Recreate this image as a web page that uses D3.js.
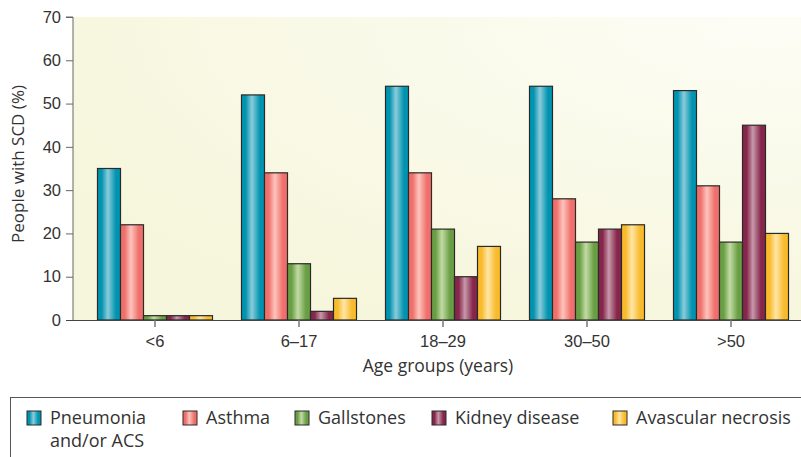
<!DOCTYPE html>
<html>
<head>
<meta charset="utf-8">
<script src="https://cdn.jsdelivr.net/npm/d3@7"></script>
<style>
  body { margin: 0; background: #fff; }
  svg { display: block; font-family: "Open Sans", "Noto Sans", sans-serif; }
</style>
</head>
<body>
<svg id="chart" width="801" height="457"></svg>
<script>
const ageGroups = ["<6", "6\u201317", "18\u201329", "30\u201350", ">50"];
const conditions = ["pneumonia", "asthma", "gallstones", "kidney", "avascular"];
const conditionLabels = [["Pneumonia", "and/or ACS"], ["Asthma"], ["Gallstones"], ["Kidney disease"], ["Avascular necrosis"]];
const pneumonia = [35, 52, 54, 54, 53];
const asthma = [22, 34, 34, 28, 31];
const gallstones = [1, 13, 21, 18, 18];
const kidney = [1, 2, 10, 21, 45];
const avascular = [1, 5, 17, 22, 20];
const yTicks = [0, 10, 20, 30, 40, 50, 60, 70];

const seriesValues = [pneumonia, asthma, gallstones, kidney, avascular];

const svg = d3.select("#chart");
const margin = { top: 17, left: 73, bottom: 320 };

// dark edge / light highlight per condition
const palette = {
  pneumonia: ["#0094b0", "#8ccbdb"],
  asthma: ["#ef6f6b", "#fdc4bd"],
  gallstones: ["#6a9e45", "#c3dba5"],
  kidney: ["#86264b", "#c799aa"],
  avascular: ["#f8bb2c", "#fee6a6"]
};

const defs = svg.append("defs");
conditions.forEach(k => {
  const gr = defs.append("linearGradient")
    .attr("id", "grad-" + k)
    .attr("x1", "0%").attr("x2", "100%").attr("y1", "0%").attr("y2", "0%");
  gr.append("stop").attr("offset", "0%").attr("stop-color", palette[k][0]);
  gr.append("stop").attr("offset", "18%").attr("stop-color", palette[k][0]);
  gr.append("stop").attr("offset", "45%").attr("stop-color", palette[k][1]);
  gr.append("stop").attr("offset", "80%").attr("stop-color", palette[k][0]);
  gr.append("stop").attr("offset", "100%").attr("stop-color", palette[k][0]);
});

const bg = defs.append("radialGradient")
  .attr("id", "bg-grad")
  .attr("cx", "95%").attr("cy", "0%").attr("r", "110%");
bg.append("stop").attr("offset", "0%").attr("stop-color", "#fdfdf6");
bg.append("stop").attr("offset", "100%").attr("stop-color", "#f6f6dc");

const x = d3.scaleBand()
  .domain(ageGroups)
  .range([83, 803]);

const y = d3.scaleLinear()
  .domain([0, 70])
  .range([margin.bottom, margin.top]);

const sub = d3.scaleBand()
  .domain(conditions)
  .range([0, 115]);

// plot background
svg.append("rect")
  .attr("x", margin.left)
  .attr("y", y(70))
  .attr("width", 801 - margin.left)
  .attr("height", y(0) - y(70))
  .attr("fill", "url(#bg-grad)");

// bars
const groups = svg.selectAll(".age-group")
  .data(ageGroups)
  .enter()
  .append("g")
  .attr("class", "age-group")
  .attr("transform", d => `translate(${x(d) + x.bandwidth() / 2 - 57.5},0)`);

groups.selectAll("rect")
  .data((d, i) => conditions.map((k, j) => ({ key: k, value: seriesValues[j][i] })))
  .enter()
  .append("rect")
  .attr("x", d => sub(d.key))
  .attr("y", d => y(d.value))
  .attr("width", sub.bandwidth())
  .attr("height", d => y(0) - y(d.value))
  .attr("fill", d => `url(#grad-${d.key})`)
  .attr("stroke", "#2a2a2a")
  .attr("stroke-width", 1.2);

// axes
const yAxis = svg.append("g")
  .attr("transform", `translate(${margin.left},0)`)
  .call(d3.axisLeft(y).tickValues(yTicks).tickSize(7).tickPadding(5));
yAxis.select(".domain").attr("stroke", "#666").attr("d", `M-7,${y(70)}H0V${y(0)}`);
yAxis.selectAll(".tick line").attr("stroke", "#666");
yAxis.selectAll("text").attr("font-size", 16.5).attr("fill", "#333");
yAxis.selectAll(".tick").filter(d => d === 0).select("line").remove();

const xAxis = svg.append("g")
  .attr("transform", `translate(0,${y(0)})`)
  .call(d3.axisBottom(x).tickSize(7).tickPadding(8));
xAxis.select(".domain").attr("stroke", "#444").attr("d", `M66,0.5H801`);
xAxis.selectAll(".tick line").attr("stroke", "#777").attr("stroke-width", 1.5);
xAxis.selectAll("text").attr("font-size", 16.5).attr("fill", "#333");

svg.append("text")
  .attr("x", 438)
  .attr("y", 372)
  .attr("text-anchor", "middle")
  .attr("font-size", 17.5)
  .attr("fill", "#333")
  .text("Age groups (years)");

svg.append("text")
  .attr("transform", "translate(24,164) rotate(-90)")
  .attr("text-anchor", "middle")
  .attr("font-size", 17)
  .attr("fill", "#333")
  .text("People with SCD (%)");

// legend
svg.append("rect")
  .attr("x", 10.5)
  .attr("y", 397.5)
  .attr("width", 800)
  .attr("height", 80)
  .attr("fill", "none")
  .attr("stroke", "#555")
  .attr("stroke-width", 1);

const legendX = [27, 183, 295, 432, 613];
const legend = svg.selectAll(".legend-item")
  .data(conditions)
  .enter()
  .append("g")
  .attr("class", "legend-item")
  .attr("transform", (d, i) => `translate(${legendX[i]},411)`);

legend.append("rect")
  .attr("width", 14)
  .attr("height", 14)
  .attr("fill", d => `url(#grad-${d})`)
  .attr("stroke", "#2a2a2a")
  .attr("stroke-width", 1);

legend.each(function (d, i) {
  const t = d3.select(this).append("text")
    .attr("x", 23)
    .attr("y", 13)
    .attr("font-size", 18)
    .attr("fill", "#333");
  conditionLabels[i].forEach((line, li) => {
    t.append("tspan")
      .attr("x", 23)
      .attr("dy", li === 0 ? 0 : 23)
      .text(line);
  });
});
</script>
</body>
</html>
